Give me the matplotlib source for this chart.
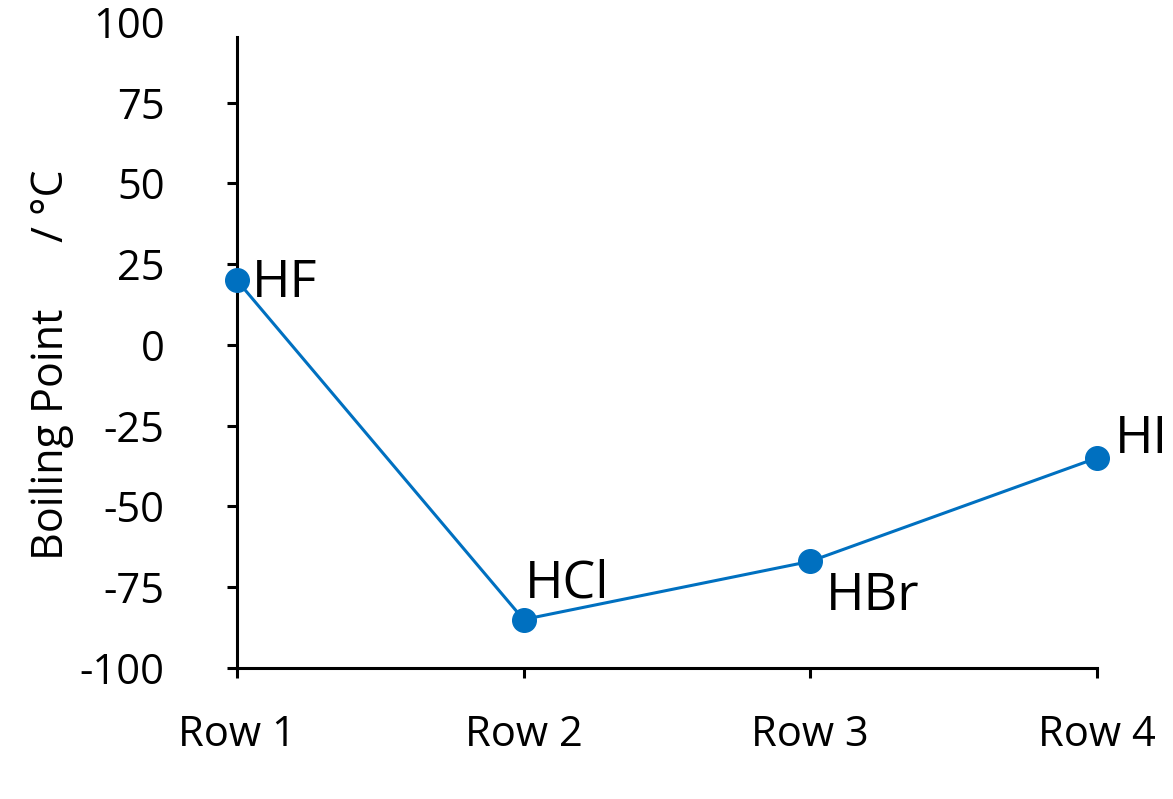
import matplotlib.pyplot as plt

plt.rcParams['font.family'] = ['Open Sans', 'DejaVu Sans']

# data
rows = ['Row 1', 'Row 2', 'Row 3', 'Row 4']
compounds = ['HF', 'HCl', 'HBr', 'HI']
boiling_points = [20, -85, -67, -35]
yticks = [-100, -75, -50, -25, 0, 25, 50, 75, 100]

# label offsets (points) for each compound
label_offsets = [(11, -12), (1, 16), (11, -35), (13, 3.6)]

BLUE = '#0070C0'

fig = plt.figure(figsize=(11.73, 7.99), dpi=100)
ax = fig.add_axes([0.202, 0.164, 0.733, 0.8085])

x = list(range(len(rows)))
ax.plot(x, boiling_points, color=BLUE, linewidth=2.2, marker='o',
        markersize=17, zorder=3, clip_on=False)

for xi, yi, name, off in zip(x, boiling_points, compounds, label_offsets):
    ax.annotate(name, (xi, yi), xytext=off, textcoords='offset points',
                ha='left', va='baseline', fontsize=37.5, color='black')

ax.set_xlim(0, len(rows) - 1)
ax.set_ylim(-100, 100)
ax.set_xticks(x)
ax.set_xticklabels(rows)
ax.set_yticks(yticks)
ax.set_yticklabels([str(t) for t in yticks])

for side in ['top', 'right']:
    ax.spines[side].set_visible(False)
for side in ['left', 'bottom']:
    ax.spines[side].set_linewidth(2.2)
ax.spines['left'].set_bounds(-100, 95.5)

ax.tick_params(axis='both', direction='out', length=7, width=2.2,
               labelsize=30, colors='black')
ax.tick_params(axis='y', pad=45)
ax.tick_params(axis='x', pad=26)
ax.yaxis.get_major_ticks()[-1].tick1line.set_visible(False)

ax.set_ylabel('Boiling Point      / \u00b0C', fontsize=31)
ax.yaxis.set_label_coords(-0.19, 0.469)

fig.savefig('out.png', dpi=100)
